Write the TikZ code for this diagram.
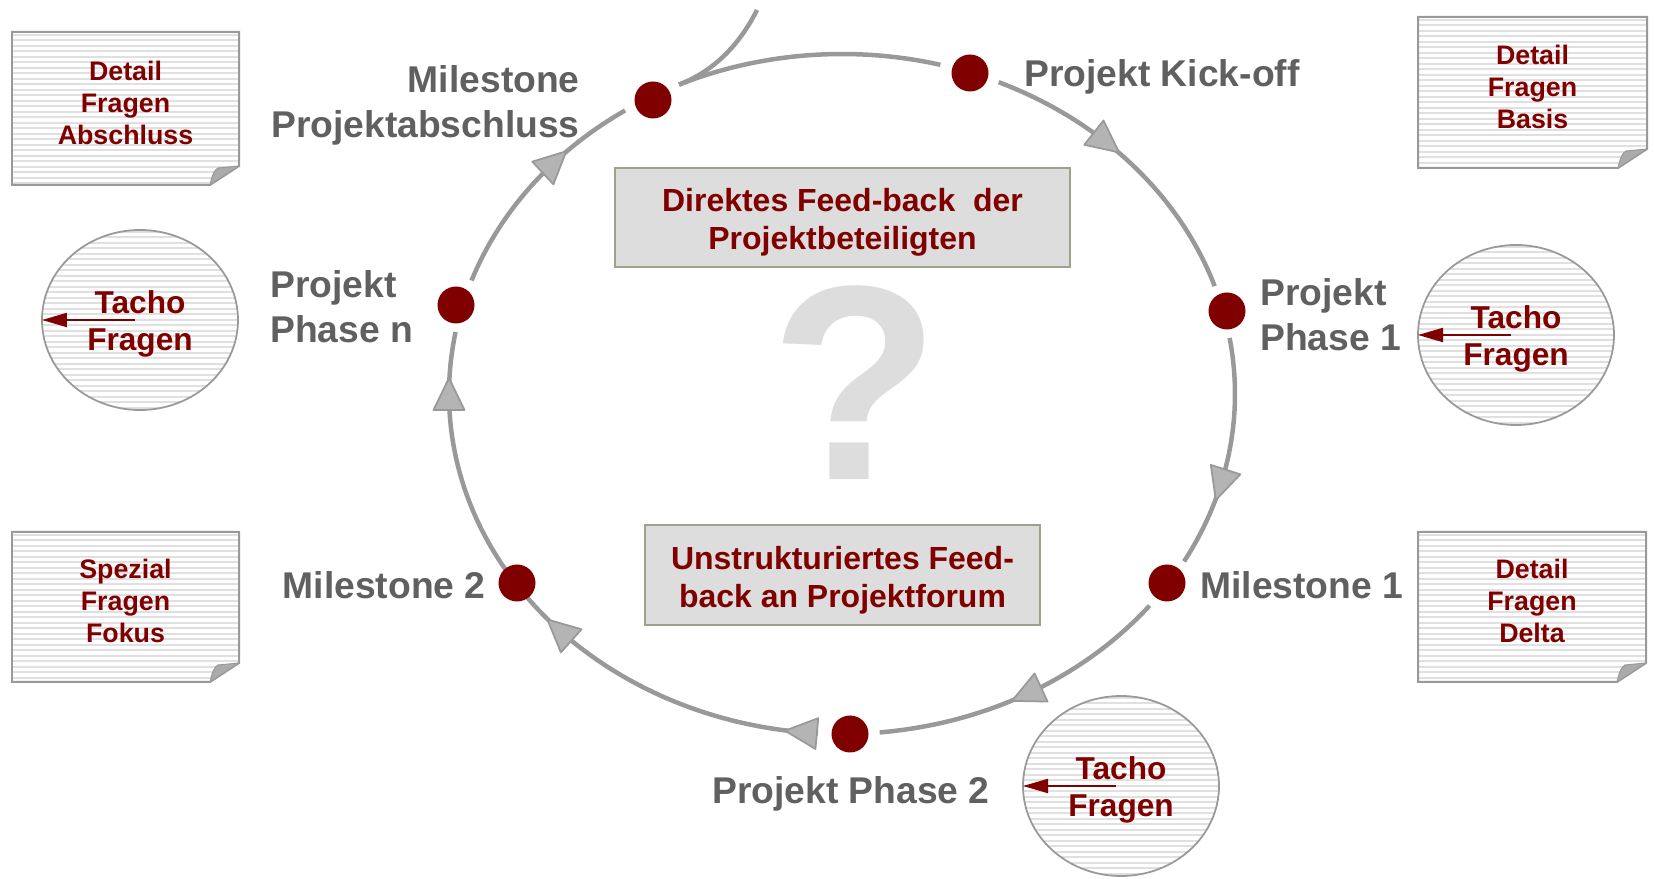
\documentclass[tikz,border=0pt]{standalone}
\usepackage{fontspec}
\setmainfont{Liberation Sans}
\usetikzlibrary{arrows.meta}
\definecolor{wine}{HTML}{800000}
\definecolor{loopgray}{HTML}{999999}
\definecolor{tipgray}{HTML}{B4B4B4}
\definecolor{labelgray}{HTML}{606060}
\definecolor{stripegray}{HTML}{E0E0E0}
\definecolor{boxfill}{HTML}{DDDDDD}
\definecolor{boxedge}{HTML}{A0A08C}
\def\ringx{842}\def\ringy{485}\def\ringa{393}\def\ringb{340}
\def\ringarc(#1:#2){\draw[ring] ({\ringx+\ringa*cos(#1)},{\ringy+\ringb*sin(#1)}) arc[start angle=#1,end angle=#2,x radius=\ringa,y radius=\ringb];}
\def\ringtip(#1){\begin{scope}[shift={({\ringx+\ringa*cos(#1)},{\ringy+\ringb*sin(#1)})},rotate={atan2(-\ringb*cos(#1),\ringa*sin(#1))}]
	\filldraw[ringtip] (16,0) -- (-16,15.5) -- (-16,-15.5) -- cycle;
	\end{scope}}
\def\notepaper(#1,#2)(#3,#4)[#5]#6{%
	\begin{scope}
		\clip (#1,#2) -- (#1,#4) -- (#3,#4) -- (#3,#2+19) -- (#3-29,#2) -- cycle;
		\foreach \s in {3,8.5,...,153}
			\draw[stripe] (#1,#4-\s) -- (#3,#4-\s);
	\end{scope}
	\draw[paper] (#1,#2) -- (#1,#4) -- (#3,#4) -- (#3,#2+19) -- (#3-29,#2) -- cycle;
	\filldraw[curl] (#3-29,#2) .. controls (#3-27,#2+9) and (#3-25,#2+15) .. (#3-21,#2+17) -- (#3,#2+19) -- cycle;
	\node[papertext] (#5) at ({(#1+#3)/2},{(#2+#4)/2+6}) {#6};
}
\def\tachodisk(#1,#2)[#3]{%
	\begin{scope}
		\clip (#1,#2) ellipse [x radius=98,y radius=90];
		\foreach \s in {-88,-82.5,...,88}
			\draw[stripe] (#1-100,#2+\s) -- (#1+100,#2+\s);
	\end{scope}
	\draw[disk] (#1,#2) ellipse [x radius=98,y radius=90];
	\coordinate (#3from) at (#1-5,#2);
	\coordinate (#3edge) at (#1-98,#2);
	\draw[tachoarrow] (#3from) -- (#3edge);
	\node[tachotext] (#3) at (#1,#2-4) {Tacho\\Fragen};
}

\begin{document}
\begin{tikzpicture}[x=0.02cm,y=0.02cm,
	ring/.style={draw=loopgray,line width=0.09cm},
	ringtip/.style={fill=tipgray,draw=loopgray,line width=0.035cm,line join=round},
	milestone/.style={circle,fill=wine,minimum size=0.74cm,inner sep=0},
	steplabel/.style={text=labelgray,font=\fontsize{21.2}{25.5}\selectfont\bfseries,inner sep=0},
	feedbox/.style={draw=boxedge,fill=boxfill,line width=0.04cm,text=wine,font=\fontsize{18.2}{21.5}\selectfont\bfseries,align=center,inner sep=0},
	paper/.style={draw=loopgray,line width=0.04cm},
	curl/.style={fill=black!33,draw=loopgray,line width=0.02cm,line join=round},
	stripe/.style={draw=stripegray,line width=0.04cm},
	papertext/.style={text=wine,font=\fontsize{15.25}{18.2}\selectfont\bfseries,align=center,inner sep=0},
	tachotext/.style={text=wine,font=\fontsize{18}{21.5}\selectfont\bfseries,align=center,inner sep=0},
	tachoarrow/.style={draw=wine,line width=0.04cm,-{Triangle[length=0.5cm,width=0.28cm]}},
	disk/.style={draw=loopgray,line width=0.035cm}]
		%%%%% START %%%%%
		\useasboundingbox (0,0) rectangle (1654,879);
		
		% the loop
		\ringarc(66.5:18.5)
		\ringarc(9.5:-29.5)
		\ringarc(-38.5:-84.5)
		\ringarc(-93.5:-141.5)
		\ringarc(218.5:169.5)
		\ringarc(160.5:123.5)
		\ringarc(114.5:75.5)
		\coordinate (exitbase) at ({\ringx+\ringa*cos(114.5)},{\ringy+\ringb*sin(114.5)});
		\coordinate (exit) at (757,869);
		\draw[ring] (exitbase) .. controls (722,811) and (745,845) .. (exit);
		
		\ringtip(47.7)
		\ringtip(-15.5)
		\ringtip(-62)
		\ringtip(-96)
		\ringtip(-136)
		\ringtip(180)
		\ringtip(137)
		
		\node[milestone] (kickoff) at (970,806) {};
		\node[milestone] (phaseone) at (1227,568) {};
		\node[milestone] (mileone) at (1167,296) {};
		\node[milestone] (phasetwo) at (850,145) {};
		\node[milestone] (miletwo) at (517,296) {};
		\node[milestone] (phasen) at (456,574) {};
		\node[milestone] (mileend) at (653,779) {};
		
		\node[steplabel,anchor=west] (kickofflabel) at (1024,802) {Projekt Kick-off};
		\node[steplabel,anchor=west,align=left] (phaseonelabel) at (1260,564) {Projekt\\Phase 1};
		\node[steplabel,anchor=west] (mileonelabel) at (1200,294) {Milestone 1};
		\node[steplabel] (phasetwolabel) at (851,85) {Projekt Phase 2};
		\node[steplabel,anchor=east] (miletwolabel) at (486,294) {Milestone 2};
		\node[steplabel,anchor=west,align=left] (phasenlabel) at (270,572) {Projekt\\Phase n};
		\node[steplabel,anchor=east,align=right] (mileendlabel) at (580,774) {Milestone\\Projektabschluss};
		
		% middle
		\node[text=boxfill,font=\fontsize{158}{158}\selectfont\bfseries,anchor=base,inner sep=0] (query) at (855,399) {?};
		\node[feedbox,minimum width=9.1cm,minimum height=1.98cm] (direct) at (842.5,661.5) {\rule{0pt}{0.66cm}Direktes Feed-back\ \ der\\Projektbeteiligten};
		\node[feedbox,minimum width=7.9cm,minimum height=2cm] (forum) at (842.5,304) {\rule{0pt}{0.66cm}Unstrukturiertes Feed-\\back an Projektforum};
		
		% sheets
		\notepaper(12,694)(239,847)[abschluss]{Detail\\Fragen\\Abschluss}
		\notepaper(1418,711)(1647,862)[basis]{Detail\\Fragen\\Basis}
		\notepaper(12,197)(239,347)[fokus]{Spezial\\Fragen\\Fokus}
		\notepaper(1418,197)(1646,347)[delta]{Detail\\Fragen\\Delta}
		
		\tachodisk(140,559)[tacholeft]
		\tachodisk(1516,544)[tachoright]
		\tachodisk(1121,93)[tachobottom]
		
		%%%%% END %%%%%
\end{tikzpicture}
\end{document}
